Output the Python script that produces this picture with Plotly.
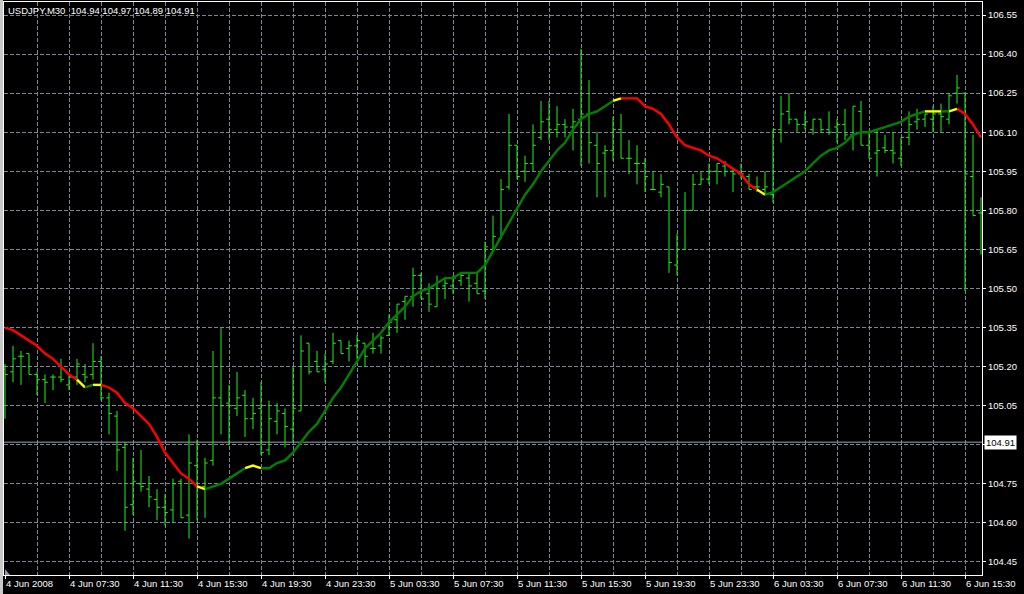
import plotly.graph_objects as go

# ---------------- data ----------------
bar_open = [105.19,105.18,105.24,105.25,105.17,105.15,105.16,105.16,105.13,105.16,
            105.17,105.17,105.22,105.08,105.01,104.89,104.67,104.75,104.73,104.69,
            104.66,104.65,104.76,104.63,104.82,104.74,104.84,105.08,105.06,105.04,
            105.09,105.00,105.04,104.88,104.99,105.02,104.96,105.03,105.29,105.22,
            105.19,105.22,105.30,105.27,105.28,105.29,105.27,105.28,105.32,105.38,
            105.45,105.47,105.55,105.48,105.43,105.51,105.51,105.53,105.54,105.52,
            105.49,105.65,105.69,105.89,106.05,105.95,105.98,106.08,106.15,106.11,
            106.13,106.12,106.15,106.17,106.05,106.02,106.03,106.11,106.00,105.98,
            105.98,105.88,105.87,105.89,105.59,105.65,105.80,105.90,105.92,105.95,
            105.97,105.95,105.94,105.93,105.89,105.88,105.86,106.11,106.18,106.15,
            106.13,106.11,106.15,106.11,106.12,106.13,106.09,106.18,106.05,106.02,
            106.04,106.03,106.00,106.08,106.14,106.15,106.15,106.17,106.15,106.25,
            106.25,105.93,105.79]
bar_high = [105.21,105.28,105.26,105.25,105.18,105.17,105.17,105.23,105.17,105.23,
            105.21,105.29,105.24,105.10,105.03,104.91,104.85,104.88,104.78,104.73,
            104.71,104.77,104.77,104.94,104.92,104.85,105.26,105.35,105.13,105.18,
            105.11,105.08,105.14,105.07,105.06,105.04,105.20,105.32,105.29,105.26,
            105.25,105.33,105.30,105.30,105.32,105.29,105.33,105.32,105.40,105.44,
            105.47,105.58,105.56,105.52,105.55,105.54,105.55,105.56,105.56,105.56,
            105.68,105.78,105.92,106.17,106.05,106.01,106.13,106.22,106.22,106.20,
            106.15,106.19,106.42,106.30,106.10,106.05,106.16,106.17,106.07,106.05,
            106.00,105.95,105.94,105.89,105.71,105.87,105.94,105.95,105.98,105.98,
            105.99,105.96,105.98,105.94,105.93,105.95,106.11,106.24,106.25,106.15,
            106.18,106.15,106.15,106.18,106.15,106.19,106.20,106.22,106.10,106.11,
            106.09,106.10,106.08,106.18,106.19,106.17,106.20,106.21,106.25,106.32,
            106.25,106.09,105.85]
bar_low = [105.00,105.14,105.13,105.17,105.09,105.06,105.11,105.14,105.11,105.13,
           105.14,105.15,105.07,104.94,104.80,104.57,104.63,104.72,104.66,104.61,
           104.59,104.60,104.62,104.54,104.61,104.62,104.82,104.94,104.90,105.01,
           104.93,104.96,104.86,104.86,104.94,104.89,104.91,105.03,105.17,105.18,
           105.14,105.21,105.25,105.22,105.23,105.20,105.25,105.25,105.32,105.33,
           105.38,105.43,105.46,105.41,105.43,105.46,105.48,105.51,105.45,105.48,
           105.46,105.64,105.69,105.88,105.92,105.91,105.95,106.07,106.07,106.08,
           106.08,106.03,105.97,105.98,105.85,105.85,105.99,106.00,105.94,105.90,
           105.87,105.88,105.85,105.56,105.55,105.65,105.80,105.90,105.90,105.90,
           105.93,105.87,105.92,105.88,105.87,105.86,105.83,106.06,106.13,106.10,
           106.11,106.09,106.10,106.09,106.06,106.07,106.03,106.05,106.00,105.93,
           106.02,105.98,105.97,106.05,106.11,106.12,106.10,106.10,106.13,106.21,
           105.49,105.78,105.63]
bar_close = [105.17,105.23,105.24,105.17,105.15,105.14,105.16,105.15,105.16,105.21,
             105.16,105.22,105.08,105.02,104.88,104.66,104.76,104.74,104.70,104.66,
             104.64,104.75,104.62,104.83,104.74,104.83,105.08,105.05,105.05,105.08,
             105.00,105.02,104.87,105.00,105.03,104.97,105.04,105.26,105.18,105.18,
             105.21,105.29,105.25,105.28,105.30,105.24,105.27,105.31,105.37,105.44,
             105.47,105.55,105.46,105.44,105.50,105.52,105.54,105.55,105.51,105.48,
             105.66,105.70,105.88,106.05,105.93,105.98,106.05,106.14,106.11,106.13,
             106.12,106.14,106.17,106.06,105.98,106.03,106.11,106.00,106.00,105.98,
             105.93,105.88,105.90,105.60,105.65,105.80,105.90,105.92,105.95,105.98,
             105.95,105.94,105.94,105.88,105.89,105.89,106.11,106.17,106.15,106.13,
             106.14,106.15,106.11,106.10,106.13,106.09,106.20,106.05,106.00,106.03,
             106.03,106.02,106.08,106.13,106.15,106.17,106.17,106.16,106.24,106.27,
             105.94,105.78,105.79]
ma_value = [105.35,105.34,105.32,105.30,105.28,105.25,105.23,105.20,105.17,105.15,
            105.12,105.13,105.13,105.12,105.10,105.06,105.04,105.01,104.98,104.93,
            104.87,104.83,104.79,104.77,104.74,104.73,104.74,104.75,104.77,104.79,
            104.81,104.82,104.81,104.81,104.83,104.84,104.87,104.91,104.95,104.98,
            105.03,105.08,105.12,105.17,105.22,105.27,105.30,105.33,105.37,105.40,
            105.43,105.47,105.49,105.50,105.52,105.54,105.54,105.56,105.56,105.56,
            105.59,105.645,105.695,105.755,105.805,105.86,105.90,105.95,105.99,106.03,
            106.06,106.11,106.15,106.17,106.18,106.20,106.22,106.23,106.23,106.23,
            106.20,106.19,106.17,106.13,106.08,106.05,106.04,106.03,106.01,106.00,
            105.98,105.96,105.94,105.90,105.88,105.86,105.87,105.89,105.91,105.93,
            105.95,105.98,106.01,106.03,106.04,106.06,106.09,106.10,106.10,106.11,
            106.12,106.13,106.14,106.16,106.17,106.18,106.18,106.18,106.18,106.19,
            106.17,106.13,106.08]
# trend state of the MA for the segment ending at each bar: r=down, y=flat, g=up
ma_state = (['r'] * 10 + ['y', 'g', 'y'] + ['r'] * 12 + ['y'] + ['g'] * 5 + ['y'] * 2
            + ['g'] * 44 + ['y'] + ['r'] * 17 + ['y'] + ['g'] * 20 + ['y'] * 2
            + ['g', 'y'] + ['r'] * 3)
x_tick_index = list(range(0, 121, 8))
x_tick_text = ["4 Jun 2008", "4 Jun 07:30", "4 Jun 11:30", "4 Jun 15:30", "4 Jun 19:30",
               "4 Jun 23:30", "5 Jun 03:30", "5 Jun 07:30", "5 Jun 11:30", "5 Jun 15:30",
               "5 Jun 19:30", "5 Jun 23:30", "6 Jun 03:30", "6 Jun 07:30", "6 Jun 11:30",
               "6 Jun 15:30"]
price_levels = [104.45, 104.60, 104.75, 104.90, 105.05, 105.20, 105.35, 105.50,
                105.65, 105.80, 105.95, 106.10, 106.25, 106.40, 106.55]
symbol_title = "USDJPY,M30\u00a0\u00a0104.94 104.97 104.89 104.91"
bid_price = 104.91

# ---------------- styling ----------------
BAR_COL = "#22ee22"
GRID_COL = "#778899"
STATE_COL = {"r": "#ff0000", "y": "#ffff00", "g": "#008000"}
FONT = "Liberation Sans, Arial, sans-serif"
FS = 9.5

n = len(bar_close)
idx = list(range(n))

fig = go.Figure()
fig.add_trace(go.Ohlc(
    x=idx, open=bar_open, high=bar_high, low=bar_low, close=bar_close,
    increasing=dict(line=dict(color=BAR_COL, width=1)),
    decreasing=dict(line=dict(color=BAR_COL, width=1)),
    tickwidth=0.35, hoverinfo="skip", showlegend=False))

# colored moving average, one trace per state, runs merged
for st, col in STATE_COL.items():
    xs, ys = [], []
    prev_in = False
    for i in range(1, n):
        if ma_state[i] == st:
            if not prev_in:
                xs += [i - 1]
                ys += [ma_value[i - 1]]
            xs.append(i)
            ys.append(ma_value[i])
            prev_in = True
        else:
            if prev_in:
                xs.append(None)
                ys.append(None)
            prev_in = False
    fig.add_trace(go.Scatter(x=xs, y=ys, mode="lines", line=dict(color=col, width=2.4),
                             hoverinfo="skip", showlegend=False, connectgaps=False))

minor_vals = [v + 4 for v in x_tick_index]
# the bid label box hides the level under it, as in the terminal
y_tick_text = ["" if abs(p - bid_price) < 0.05 else f"{p:.2f}" for p in price_levels]

fig.update_layout(
    width=1024, height=594,
    margin=dict(l=4, r=42, t=2, b=19, pad=0),
    paper_bgcolor="black", plot_bgcolor="black",
    font=dict(family=FONT, size=FS, color="white"),
    showlegend=False,
    xaxis=dict(
        range=[-0.125, n - 1 + 0.125], rangeslider=dict(visible=False),
        tickmode="array", tickvals=x_tick_index, ticktext=x_tick_text,
        ticks="outside", ticklen=3, tickcolor="white", tickwidth=1,
        ticklabelposition="outside right", ticklabeloverflow="allow",
        showgrid=True, gridcolor=GRID_COL, griddash="4px,2px", gridwidth=1,
        minor=dict(tickmode="array", tickvals=minor_vals, showgrid=True,
                   gridcolor=GRID_COL, griddash="4px,2px", gridwidth=1, ticks=""),
        showline=True, linecolor="white", linewidth=1, mirror=True,
        zeroline=False, automargin=False, fixedrange=True,
        tickfont=dict(family=FONT, size=FS, color="white"),
    ),
    yaxis=dict(
        range=[104.40, 106.60], side="right",
        tickmode="array", tickvals=price_levels, ticktext=y_tick_text,
        ticks="outside", ticklen=3, tickcolor="white", tickwidth=1,
        showgrid=True, gridcolor=GRID_COL, griddash="4px,2px", gridwidth=1,
        showline=True, linecolor="white", linewidth=1, mirror=True,
        zeroline=False, automargin=False, fixedrange=True,
        tickfont=dict(family=FONT, size=FS, color="white"),
    ),
)

# bid line
fig.add_shape(type="line", xref="paper", x0=0, x1=1, yref="y", y0=bid_price, y1=bid_price,
              line=dict(color="#9aa3ad", width=1), layer="below")
# window frame strip on the left
fig.add_shape(type="rect", xref="paper", x0=-4 / 978, x1=-1 / 978, yref="paper",
              y0=-19 / 573, y1=2 / 573 + 1, fillcolor="#c8c8c8", line=dict(width=0),
              layer="above")
# chart-shift marker in the lower-left corner
fig.add_shape(type="path", xref="paper", yref="paper",
              path=f"M {1/978},0 L {1/978},{6/573} L {6/978},0 Z",
              fillcolor="#8899aa", line=dict(width=0), layer="above")

# symbol title
fig.add_annotation(text=symbol_title, xref="paper", yref="paper", x=0, y=1,
                   xanchor="left", yanchor="top", xshift=2, yshift=-1, showarrow=False,
                   font=dict(family=FONT, size=FS, color="white"))
# bid price label
fig.add_annotation(text=f"{bid_price:.2f}", xref="paper", yref="y", x=1, y=bid_price,
                   xanchor="left", yanchor="middle", xshift=2, showarrow=False,
                   bgcolor="white", borderpad=1,
                   font=dict(family=FONT, size=FS, color="black"))

fig.write_html("out.html", config={"displayModeBar": False},
               post_script="document.body.style.margin='0';document.body.style.overflow='hidden';")
